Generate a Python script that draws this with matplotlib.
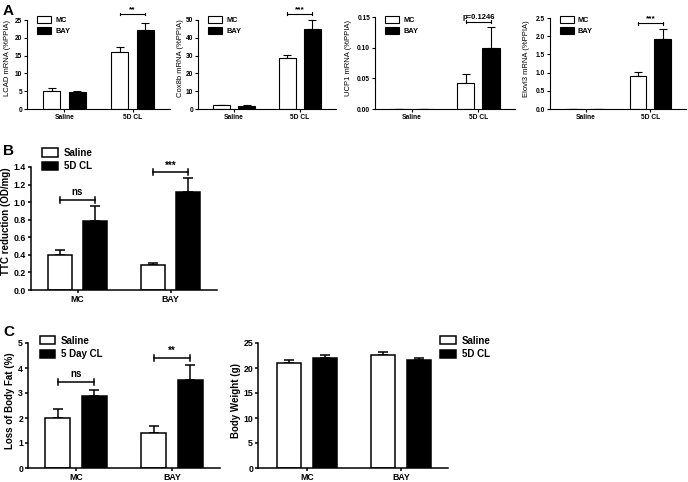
import matplotlib
matplotlib.use("Agg")
import matplotlib.pyplot as plt
import numpy as np

plt.rcParams['font.family'] = ['Liberation Sans', 'DejaVu Sans']
plt.rcParams['font.weight'] = 'bold'

W, H = 688, 482

# panel A: qPCR, groups Saline / 5D CL, series MC / BAY
a_groups = ['Saline', '5D CL']
a_series = ['MC', 'BAY']
lcad_mc, lcad_mc_err = [5.2, 16.1], [0.6, 1.3]
lcad_bay, lcad_bay_err = [4.9, 22.3], [0.3, 1.8]
cox_mc, cox_mc_err = [2.0, 28.5], [0.2, 1.7]
cox_bay, cox_bay_err = [1.7, 44.8], [0.3, 5.0]
ucp_mc, ucp_mc_err = [0.0006, 0.042], [0.0, 0.015]
ucp_bay, ucp_bay_err = [0.0008, 0.100], [0.0, 0.033]
elo_mc, elo_mc_err = [0.004, 0.91], [0.0, 0.12]
elo_bay, elo_bay_err = [0.004, 1.93], [0.0, 0.27]

# panel B: TTC reduction
b_groups = ['MC', 'BAY']
b_series = ['Saline', '5D CL']
ttc_saline, ttc_saline_err = [0.40, 0.28], [0.05, 0.025]
ttc_cl, ttc_cl_err = [0.79, 1.11], [0.17, 0.16]

# panel C: body fat loss and body weight
c_series_fat = ['Saline', '5 Day CL']
fat_saline, fat_saline_err = [2.0, 1.42], [0.35, 0.25]
fat_cl, fat_cl_err = [2.87, 3.52], [0.25, 0.60]
c_series_bw = ['Saline', '5D CL']
bw_saline, bw_saline_err = [21.0, 22.7], [0.6, 0.6]
bw_cl, bw_cl_err = [22.0, 21.7], [0.7, 0.4]


def px_axes(fig, left, right, top, bottom):
    return fig.add_axes([left / W, 1 - bottom / H, (right - left) / W, (bottom - top) / H])


def bar_panel(ax, groups, names, v1, e1, v2, e2, ylim, ymax, yticks,
              fs, lw, xlim=(-0.55, 1.55), cap=3.5):
    x = np.arange(len(groups))
    w, off = 0.26, 0.19
    b1 = ax.bar(x - off, v1, w, color='white', edgecolor='black', linewidth=lw,
                label=names[0], zorder=2)
    b2 = ax.bar(x + off, v2, w, color='black', edgecolor='black', linewidth=lw,
                label=names[1], zorder=2)
    ax.errorbar(x - off, v1, yerr=[np.zeros(len(v1)), e1], fmt='none',
                ecolor='black', elinewidth=lw, capsize=cap, capthick=lw, zorder=1)
    ax.errorbar(x + off, v2, yerr=[np.zeros(len(v2)), e2], fmt='none',
                ecolor='black', elinewidth=lw, capsize=cap, capthick=lw, zorder=1)
    ax.set_xlim(*xlim)
    ax.set_ylim(0, ylim)
    ax.set_yticks(yticks)
    ax.spines['top'].set_visible(False)
    ax.spines['right'].set_visible(False)
    ax.spines['left'].set_bounds(0, ymax)
    for s in ('left', 'bottom'):
        ax.spines[s].set_linewidth(lw)
    ax.set_xticks(x)
    ax.set_xticklabels(groups, fontsize=fs, fontweight='bold')
    ax.tick_params(axis='y', labelsize=fs, width=lw, length=2.5, pad=1)
    ax.tick_params(axis='x', width=lw, length=2.5, pad=1)
    return b1, b2


def bracket(ax, x1, x2, y, h, label, fs, lw, dy):
    ax.plot([x1, x2], [y, y], color='black', lw=lw)
    ax.plot([x1, x1], [y - h, y + h], color='black', lw=lw)
    ax.plot([x2, x2], [y - h, y + h], color='black', lw=lw)
    ax.text((x1 + x2) / 2, y + dy, label, ha='center', va='bottom',
            fontsize=fs, fontweight='bold')


def legend(ax, loc_xy, fs, hl=1.6, hh=0.9):
    ax.legend(loc='upper left', bbox_to_anchor=loc_xy, frameon=False,
              handlelength=hl, handleheight=hh, handletextpad=0.6,
              labelspacing=0.35, borderpad=0, borderaxespad=0,
              prop={'weight': 'bold', 'size': fs})


fig = plt.figure(figsize=(W / 100, H / 100), dpi=100)

# ---- A ----
fsA, lwA = 4.8, 0.8
a_specs = [
    (27, 170, 'LCAD mRNA (%PPIA)', lcad_mc, lcad_mc_err, lcad_bay, lcad_bay_err,
     28.4, 25, [0, 5, 10, 15, 20, 25], '**', 26.7, 0.4, 0.3, '%g', -0.115),
    (198, 336, 'Cox8b mRNA (%PPIA)', cox_mc, cox_mc_err, cox_bay, cox_bay_err,
     56.7, 50, [0, 10, 20, 30, 40, 50], '***', 53.4, 0.8, 0.6, '%g', -0.1),
    (375, 515, 'UCP1 mRNA (%PPIA)', ucp_mc, ucp_mc_err, ucp_bay, ucp_bay_err,
     0.1647, 0.15, [0, 0.05, 0.10, 0.15], 'p=0.1246', 0.142, 0.0025, 0.0015, '%.2f',
     -0.165),
    (550, 686, 'Elovl3 mRNA (%PPIA)', elo_mc, elo_mc_err, elo_bay, elo_bay_err,
     2.775, 2.5, [0, 0.5, 1.0, 1.5, 2.0, 2.5], '***', 2.36, 0.04, 0.03, '%.1f',
     -0.145),
]
for (l, r, ylab, v1, e1, v2, e2, ylim, ymax, yt, sig, by, bh, bdy, fmt, lx) in a_specs:
    ax = px_axes(fig, l, r, 8, 109)
    bar_panel(ax, a_groups, a_series, v1, e1, v2, e2, ylim, ymax, yt, fsA, lwA, cap=2.8)
    ax.yaxis.set_major_formatter(matplotlib.ticker.FormatStrFormatter(fmt))
    ax.set_ylabel(ylab, fontsize=5.5, fontweight='normal')
    ax.yaxis.set_label_coords(lx, 0.5)
    bracket(ax, 1 - 0.19, 1 + 0.19, by, bh, sig, 5.5 if sig.startswith('p') else 6,
            lwA, bdy)
    legend(ax, (0.07, 0.92), 5.3, hl=1.9, hh=1.1)

fig.text(3 / W, 1 - 15 / H, 'A', fontsize=11, fontweight='bold')

# ---- B ----
fsB, lwB = 6.3, 1.1
ax = px_axes(fig, 31, 217, 152, 290)
bar_panel(ax, b_groups, b_series, ttc_saline, ttc_saline_err, ttc_cl, ttc_cl_err,
          1.57, 1.4, np.arange(0, 1.41, 0.2), fsB, lwB, xlim=(-0.5, 1.5))
ax.yaxis.set_major_formatter(matplotlib.ticker.FormatStrFormatter('%.1f'))
ax.set_ylabel('TTC reduction (OD/mg)', fontsize=7, fontweight='bold', labelpad=2)
bracket(ax, -0.19, 0.19, 1.02, 0.035, 'ns', 7, lwB, 0.035)
bracket(ax, 1 - 0.19, 1 + 0.19, 1.34, 0.035, '***', 7, lwB, 0.02)
legend(ax, (0.06, 1.03), 7)
fig.text(3 / W, 1 - 155 / H, 'B', fontsize=11, fontweight='bold')

# ---- C ----
ax = px_axes(fig, 28, 220, 333, 468)
bar_panel(ax, b_groups, c_series_fat, fat_saline, fat_saline_err, fat_cl, fat_cl_err,
          5.4, 5, [0, 1, 2, 3, 4, 5], fsB, lwB, xlim=(-0.5, 1.5))
ax.set_ylabel('Loss of Body Fat (%)', fontsize=7, fontweight='bold', labelpad=2)
bracket(ax, -0.19, 0.19, 3.44, 0.12, 'ns', 7, lwB, 0.12)
bracket(ax, 1 - 0.19, 1 + 0.19, 4.4, 0.12, '**', 7, lwB, 0.1)
legend(ax, (0.06, 0.98), 7)
fig.text(3 / W, 1 - 336 / H, 'C', fontsize=11, fontweight='bold')

ax = px_axes(fig, 258, 448, 333, 468)
bar_panel(ax, b_groups, c_series_bw, bw_saline, bw_saline_err, bw_cl, bw_cl_err,
          27, 25, [0, 5, 10, 15, 20, 25], fsB, lwB, xlim=(-0.52, 1.5))
ax.set_ylabel('Body Weight (g)', fontsize=7, fontweight='bold', labelpad=2)
legend(ax, (0.96, 0.98), 7)

fig.savefig('out.png', dpi=100)
